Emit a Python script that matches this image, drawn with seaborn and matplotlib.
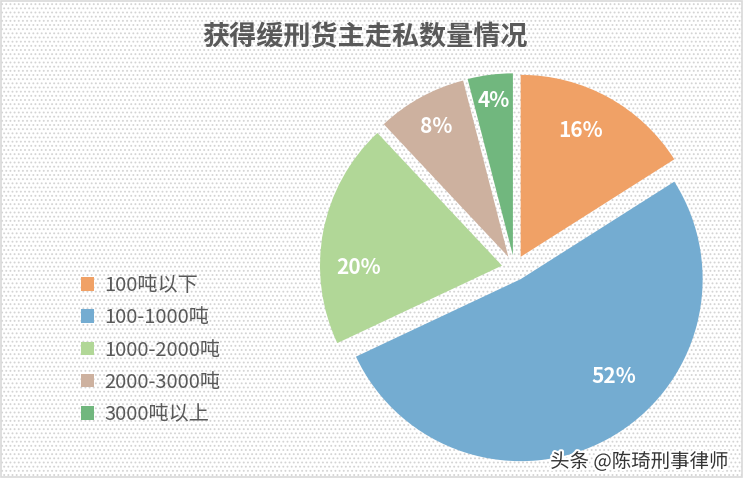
import matplotlib
matplotlib.use("Agg")
import matplotlib.pyplot as plt
import seaborn as sns
import numpy as np
from matplotlib.patches import Rectangle, Patch
import matplotlib.patheffects as pe

# ---- data ----
title = "获得缓刑货主走私数量情况"
categories = ["100吨以下", "100-1000吨", "1000-2000吨", "2000-3000吨", "3000吨以上"]
shares = [16, 52, 20, 8, 4]
hex_colors = ["#F0A166", "#74ACD1", "#B1D797", "#CDB19F", "#71B77E"]
watermark = "头条 @陈琦刑事律师"

# label placement inside each wedge (fraction of span from clockwise start, radial distance)
label_frac = [0.44, 0.42, 0.34, 0.5, 0.5]
label_dist = [0.77, 0.74, 0.79, 0.82, 0.86]

sns.set_theme(style="white")
plt.rcParams['font.family'] = ['Noto Sans CJK SC', 'DejaVu Sans']
plt.rcParams['hatch.linewidth'] = 0.8

colors = sns.color_palette(hex_colors)
explode = [0.07] * len(shares)

W, H = 743, 488
fig = plt.figure(figsize=(W / 100, H / 100), dpi=100)
fig.patch.set_facecolor('white')

# textured chart area + border
fig.patches.append(Rectangle((0.5 / W, 11 / H), 741.5 / W, 476.5 / H, transform=fig.transFigure,
                             facecolor='white', edgecolor='#d4d4d4', hatch='....', lw=0, zorder=-2))
fig.patches.append(Rectangle((0.5 / W, 11 / H), 741.5 / W, 476.5 / H, transform=fig.transFigure,
                             facecolor='none', edgecolor='#d9d9d9', lw=1.2, zorder=-1))

R = 182.0
half = 205.0
cx, cy = 514.5, 268.0
ax = fig.add_axes([(cx - half) / W, (H - cy - half) / H, 2 * half / W, 2 * half / H])
ax.set_facecolor('none')
ax.set_zorder(2)
wedges, texts, autotexts = ax.pie(
    shares, colors=colors, explode=explode, startangle=90, counterclock=False,
    autopct=lambda p: f"{p:.0f}%", pctdistance=0.8,
    wedgeprops=dict(linewidth=0),
    textprops=dict(color='white', fontsize=15, fontweight='bold'))
for w, t, f, d in zip(wedges, autotexts, label_frac, label_dist):
    ang = np.deg2rad(w.theta2 - f * (w.theta2 - w.theta1))
    x0, y0 = w.center
    t.set_position((x0 + d * w.r * np.cos(ang), y0 + d * w.r * np.sin(ang)))
ax.set_xlim(-half / R, half / R)
ax.set_ylim(-half / R, half / R)
ax.set_aspect('equal')
ax.axis('off')

handles = [Patch(facecolor=c, edgecolor='none') for c in colors]
fig.legend(handles, categories, loc='upper left', bbox_to_anchor=(81 / W, 1 - 275 / H),
           frameon=False, fontsize=14.5, handlelength=0.65, handleheight=0.65,
           handletextpad=0.5, labelspacing=0.56, borderpad=0, borderaxespad=0,
           labelcolor='#595959')

fig.text(365 / W, 1 - 37 / H, title, ha='center', va='center', fontsize=19.5,
         fontweight='bold', color='#595959')

fig.text(729 / W, 1 - 462 / H, watermark, ha='right', va='center', fontsize=14,
         color='#333333', path_effects=[pe.withStroke(linewidth=3, foreground='white')])

fig.savefig('out.png', dpi=100)
